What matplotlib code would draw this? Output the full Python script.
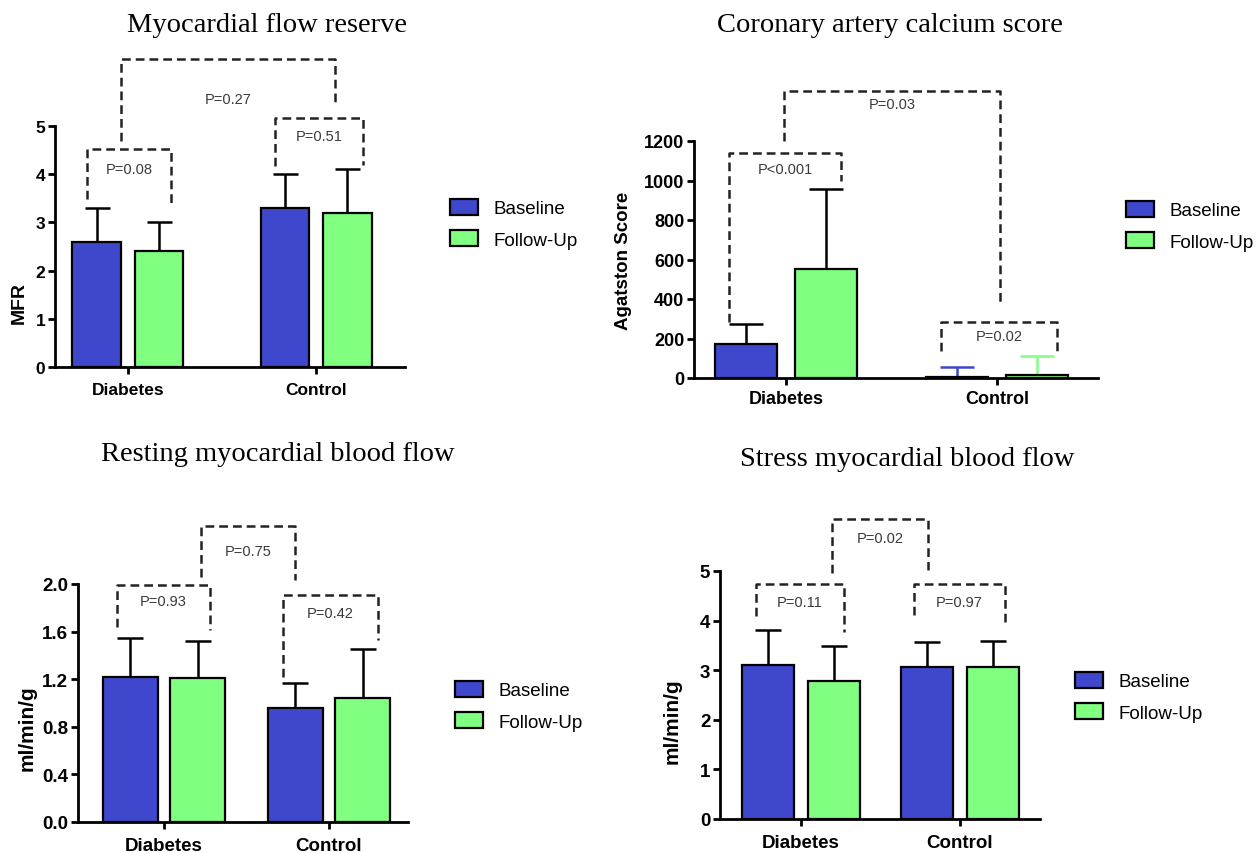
import numpy as np
import matplotlib.pyplot as plt
from matplotlib.patches import Patch

W, H = 1257, 854

groups = ["Diabetes", "Control"]
series = ["Baseline", "Follow-Up"]

# means and upper SD
mfr_baseline = [2.6, 3.3]
mfr_followup = [2.4, 3.2]
mfr_baseline_sd = [0.7, 0.7]
mfr_followup_sd = [0.6, 0.9]
mfr_p = ["P=0.08", "P=0.51", "P=0.27"]

cac_baseline = [172, 5]
cac_followup = [553, 15]
cac_baseline_sd = [101, 51]
cac_followup_sd = [404, 96]
cac_p = ["P<0.001", "P=0.02", "P=0.03"]

rest_baseline = [1.22, 0.96]
rest_followup = [1.21, 1.04]
rest_baseline_sd = [0.33, 0.21]
rest_followup_sd = [0.31, 0.41]
rest_p = ["P=0.93", "P=0.42", "P=0.75"]

stress_baseline = [3.10, 3.06]
stress_followup = [2.78, 3.07]
stress_baseline_sd = [0.71, 0.51]
stress_followup_sd = [0.71, 0.51]
stress_p = ["P=0.11", "P=0.97", "P=0.02"]

BLUE = "#3f48cc"
GREEN = "#80ff80"
SANS = "Liberation Sans"
SERIF = "Liberation Serif"


def px_rect(left, right, y0, ytop):
    return [left / W, 1 - y0 / H, (right - left) / W, (y0 - ytop) / H]


def draw_panel(p):
    ax = fig.add_axes(px_rect(*p["box"]))
    x = np.arange(len(groups))
    off, bw = p["off"], p["bw"]
    for i, (vals, sd, col) in enumerate([(p["base"], p["base_sd"], BLUE),
                                         (p["fu"], p["fu_sd"], GREEN)]):
        xs = x + (i * 2 - 1) * off
        ax.bar(xs, vals, bw, color=col, edgecolor="black", linewidth=1.6, zorder=2)
        for k in range(len(groups)):
            ec = p["ecol"][i][k]
            ax.errorbar(xs[k], vals[k], yerr=[[0], [sd[k]]], fmt="none",
                        ecolor=ec, elinewidth=1.8, capsize=p["cap"], capthick=1.8,
                        zorder=1)
    ax.set_xlim(*p["xlim"])
    ax.set_ylim(0, p["ymax"])
    ax.set_yticks(p["yticks"])
    ax.set_yticklabels(p["yticklabels"])
    ax.set_xticks(x)
    ax.set_xticklabels(groups)
    for s in ["top", "right"]:
        ax.spines[s].set_visible(False)
    for s in ["left", "bottom"]:
        ax.spines[s].set_linewidth(2.0)
    ax.tick_params(axis="both", width=2.0, length=5, labelsize=p["fs"], pad=2)
    ax.tick_params(axis="x", pad=p["xpad"])
    for t in ax.get_xticklabels() + ax.get_yticklabels():
        t.set_fontweight("bold")
        t.set_family(SANS)

    # significance brackets
    for lab, (xl, xr, yt, yl, yr, ty) in zip(p["plabels"], p["brackets"]):
        ax.plot([xl, xl, xr, xr], [yl, yt, yt, yr], ls=(0, (3.5, 2)), lw=1.8,
                color="#222222", clip_on=False, zorder=3)
        ax.text((xl + xr) / 2, ty, lab, ha="center", va="center", fontsize=10.5,
                family=SANS, color="#3a3a3a", clip_on=False)

    tx, ty = p["title_xy"]
    fig.text(tx / W, 1 - ty / H, p["title"], ha="center", va="center",
             fontsize=20.5, family=SERIF)
    lx, ly = p["ylabel_xy"]
    fig.text(lx / W, 1 - ly / H, p["ylabel"], ha="center", va="center",
             rotation=90, fontsize=p["yfs"], fontweight="bold", family=SANS)

    handles = [Patch(facecolor=BLUE, edgecolor="black", linewidth=1.6),
               Patch(facecolor=GREEN, edgecolor="black", linewidth=1.6)]
    gx, gy = p["legend_xy"]
    fig.legend(handles, series, loc="upper left",
               bbox_to_anchor=(gx / W, 1 - gy / H), frameon=False,
               prop={"family": SANS, "size": 13.5}, handlelength=1.5,
               handleheight=0.9, handletextpad=0.8, labelspacing=0.7,
               borderpad=0, borderaxespad=0)
    return ax


fig = plt.figure(figsize=(W / 100, H / 100), dpi=100)

K = "black"
panels = [
    dict(box=(55, 405, 368, 127), xlim=(-0.388, 1.473), ymax=5,
         yticks=[0, 1, 2, 3, 4, 5], yticklabels=["0", "1", "2", "3", "4", "5"],
         base=mfr_baseline, fu=mfr_followup, base_sd=mfr_baseline_sd,
         fu_sd=mfr_followup_sd, ecol=[[K, K], [K, K]],
         off=0.165, bw=0.26, cap=9, fs=12.5, yfs=14, xpad=6, plabels=mfr_p,
         brackets=[(-0.218, 0.229, 4.52, 3.49, 3.32, 4.1),
                   (0.782, 1.25, 5.17, 4.17, 4.19, 4.79),
                   (-0.037, 1.101, 6.39, 4.69, 5.46, 5.56)],
         title="Myocardial flow reserve", title_xy=(267, 25),
         ylabel="MFR", ylabel_xy=(19, 303), legend_xy=(450, 200)),
    dict(box=(694, 1098, 379, 142), xlim=(-0.436, 1.479), ymax=1200,
         yticks=[0, 200, 400, 600, 800, 1000, 1200],
         yticklabels=["0", "200", "400", "600", "800", "1000", "1200"],
         base=cac_baseline, fu=cac_followup, base_sd=cac_baseline_sd,
         fu_sd=cac_followup_sd, ecol=[[K, BLUE], [K, GREEN]],
         off=0.19, bw=0.295, cap=12.5, fs=13, yfs=13.5, xpad=4, plabels=cac_p,
         brackets=[(-0.27, 0.26, 1139, 283, 997, 1058),
                   (0.735, 1.284, 284, 137, 137, 213),
                   (-0.01, 1.014, 1453, 1200, 370, 1387)],
         title="Coronary artery calcium score", title_xy=(890, 25),
         ylabel="Agatston Score", ylabel_xy=(623, 261), legend_xy=(1126, 202)),
    dict(box=(78, 408, 823, 585), xlim=(-0.521, 1.479), ymax=2.0,
         yticks=[0, 0.4, 0.8, 1.2, 1.6, 2.0],
         yticklabels=["0.0", "0.4", "0.8", "1.2", "1.6", "2.0"],
         base=rest_baseline, fu=rest_followup, base_sd=rest_baseline_sd,
         fu_sd=rest_followup_sd, ecol=[[K, K], [K, K]],
         off=0.205, bw=0.333, cap=9.7, fs=13.5, yfs=15, xpad=6, plabels=rest_p,
         brackets=[(-0.285, 0.279, 1.99, 1.64, 1.61, 1.86),
                   (0.721, 1.297, 1.91, 1.22, 1.53, 1.76),
                   (0.224, 0.794, 2.49, 2.06, 2.03, 2.28)],
         title="Resting myocardial blood flow", title_xy=(278, 455),
         ylabel="ml/min/g", ylabel_xy=(27, 728), legend_xy=(455, 682)),
    dict(box=(720, 1040, 820, 572), xlim=(-0.509, 1.503), ymax=5,
         yticks=[0, 1, 2, 3, 4, 5], yticklabels=["0", "1", "2", "3", "4", "5"],
         base=stress_baseline, fu=stress_followup, base_sd=stress_baseline_sd,
         fu_sd=stress_followup_sd, ecol=[[K, K], [K, K]],
         off=0.208, bw=0.33, cap=9.7, fs=13.5, yfs=15, xpad=6, plabels=stress_p,
         brackets=[(-0.283, 0.27, 4.74, 4.09, 3.77, 4.38),
                   (0.711, 1.283, 4.74, 4.11, 3.87, 4.38),
                   (0.195, 0.799, 6.05, 4.96, 5.02, 5.67)],
         title="Stress myocardial blood flow", title_xy=(907, 460),
         ylabel="ml/min/g", ylabel_xy=(672, 721), legend_xy=(1075, 673)),
]

for p in panels:
    draw_panel(p)

fig.savefig("out.png", dpi=100)
